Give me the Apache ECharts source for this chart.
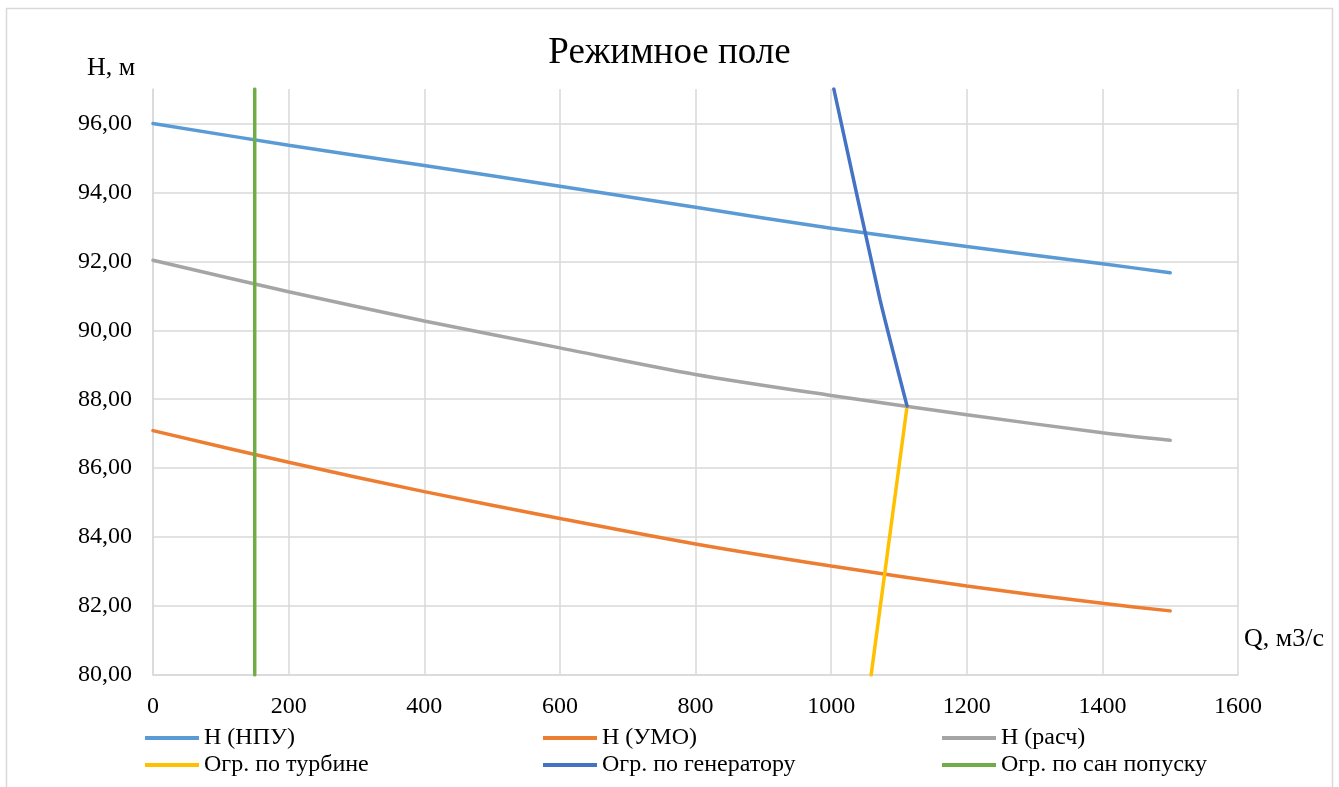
<!DOCTYPE html>
<html>
<head>
<meta charset="utf-8">
<script src="https://cdn.jsdelivr.net/npm/echarts@6/dist/echarts.min.js"></script>
<style>
html,body{margin:0;padding:0;background:#fff;}
#chart{width:1339px;height:787px;}
</style>
</head>
<body>
<div id="chart"></div>
<script>
// ---- data ----
const qMain = [0, 200, 400, 600, 800, 1000, 1200, 1400, 1500];
const hNPU  = [96.00, 95.37, 94.78, 94.18, 93.57, 92.96, 92.43, 91.93, 91.67];
const hUMO  = [87.09, 86.17, 85.32, 84.54, 83.80, 83.16, 82.58, 82.08, 81.86];
const hCalc = [92.03, 91.12, 90.27, 89.49, 88.72, 88.11, 87.55, 87.03, 86.81];
const turbineQ = [1112, 1059];
const turbineH = [87.8, 80.0];
const genQ = [1004, 1072, 1112];
const genH = [97.0, 90.9, 87.8];
const sanQ = [150, 150];
const sanH = [80.0, 97.0];
const xTicks = [0, 200, 400, 600, 800, 1000, 1200, 1400, 1600];
const yTicks = [80, 82, 84, 86, 88, 90, 92, 94, 96];

const names = ['H (НПУ)', 'H (УМО)', 'H (расч)', 'Огр. по турбине', 'Огр. по генератору', 'Огр. по сан попуску'];
const colors = ['#5B9BD5', '#ED7D31', '#A5A5A5', '#FFC000', '#4472C4', '#70AD47'];

const zip = (a, b) => a.map((v, i) => [v, b[i]]);
const seriesData = [
  zip(qMain, hNPU), zip(qMain, hUMO), zip(qMain, hCalc),
  zip(turbineQ, turbineH), zip(genQ, genH), zip(sanQ, sanH)
];
const smoothFlags = [0.3, 0.3, 0.3, false, 0.15, false];

const FONT = '"Liberation Serif", "Times New Roman", serif';
const chart = echarts.init(document.getElementById('chart'));

const legendBase = {
  orient: 'vertical', top: 726, itemWidth: 54, itemHeight: 4, itemGap: 3, padding: 0,
  icon: 'rect',
  textStyle: {fontFamily: FONT, fontSize: 24, color: '#000', lineHeight: 24}
};

chart.setOption({
  animation: false,
  title: {
    text: 'Режимное поле', left: 'center', top: 30,
    textStyle: {fontFamily: FONT, fontSize: 37, fontWeight: 'normal', color: '#000'}
  },
  legend: [
    Object.assign({}, legendBase, {left: 145, data: [names[0], names[3]]}),
    Object.assign({}, legendBase, {left: 543, data: [names[1], names[4]]}),
    Object.assign({}, legendBase, {left: 942, data: [names[2], names[5]]})
  ],
  grid: {left: 153, right: 101, top: 89, bottom: 112, containLabel: false},
  xAxis: {
    type: 'value', min: xTicks[0], max: xTicks[xTicks.length - 1], interval: 200,
    axisLine: {show: true, lineStyle: {color: '#d9d9d9', width: 1.5}},
    axisTick: {show: false},
    splitLine: {show: true, lineStyle: {color: '#d9d9d9', width: 1.5}},
    axisLabel: {fontFamily: FONT, fontSize: 24, color: '#000', margin: 20, formatter: v => String(v)}
  },
  yAxis: {
    type: 'value', min: yTicks[0], max: 97, interval: 2,
    axisLine: {show: true, lineStyle: {color: '#d9d9d9', width: 1.5}},
    axisTick: {show: false},
    splitLine: {show: true, showMaxLine: false, lineStyle: {color: '#d9d9d9', width: 1.5}},
    axisLabel: {
      fontFamily: FONT, fontSize: 24, color: '#000', margin: 21, showMaxLabel: false,
      formatter: v => (yTicks.indexOf(v) >= 0 ? v.toFixed(2).replace('.', ',') : '')
    }
  },
  graphic: [
    {type: 'rect', shape: {x: 6.5, y: 8.5, width: 1326, height: 800}, style: {fill: 'none', stroke: '#d9d9d9', lineWidth: 1.5}, silent: true, z: -10},
    {type: 'text', left: 87, top: 55, style: {text: 'H, м', font: '26px ' + FONT, fill: '#000'}},
    {type: 'text', left: 1244, top: 626, style: {text: 'Q, м3/с', font: '26px ' + FONT, fill: '#000'}}
  ],
  series: names.map((n, i) => ({
    name: n, type: 'line', data: seriesData[i], showSymbol: false, symbol: 'none',
    smooth: smoothFlags[i], clip: true,
    lineStyle: {color: colors[i], width: 3.5, cap: 'round'},
    itemStyle: {color: colors[i]}
  }))
});
</script>
</body>
</html>
